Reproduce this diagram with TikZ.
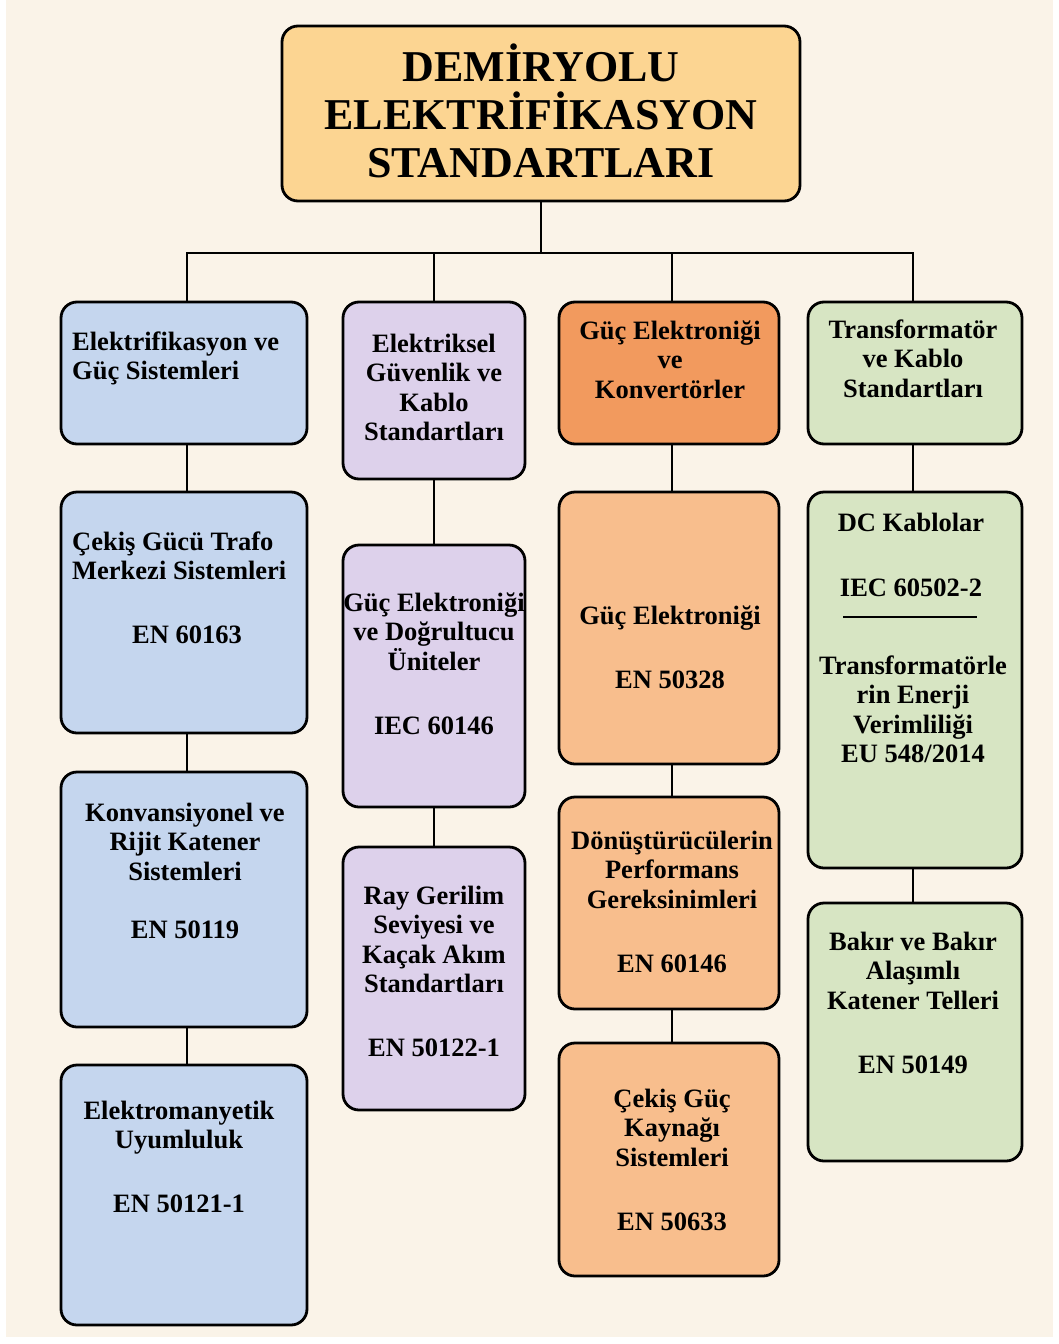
\documentclass[tikz,border=0pt]{standalone}
\usepackage{fontspec}
\setmainfont{Liberation Serif}
\definecolor{bgc}{HTML}{FAF3E8}
\definecolor{titlec}{HTML}{FCD592}
\definecolor{bluec}{HTML}{C5D6EE}
\definecolor{purplec}{HTML}{DDD1EB}
\definecolor{dorangec}{HTML}{F29A5E}
\definecolor{lorangec}{HTML}{F8BE8D}
\definecolor{greenc}{HTML}{D7E5C3}
\tikzset{
  box/.style={draw=black, line width=2.8pt, rounded corners=16pt, inner sep=0pt},
  conn/.style={draw=black, line width=2.4pt},
  txt/.style={inner sep=0pt, font=\fontsize{26.5}{29.5}\selectfont\bfseries, align=center, anchor=base},
  txtl/.style={txt, align=left, anchor=base west},
  ttl/.style={inner sep=0pt, font=\fontsize{44}{48}\selectfont\bfseries, align=center, anchor=base}
}
\newcommand{\mkbox}[6]{% name, x1, y1, x2, y2, color
  \node[box, fill=#6, minimum width={(#4-#2)*1pt}, minimum height={(#5-#3)*1pt}] (#1) at ({(#2+#4)/2},{(#3+#5)/2}) {};
}
\begin{document}
\begin{tikzpicture}[x=1pt, y=-1pt]
\useasboundingbox (0,0) rectangle (1059,1344);
\fill[white] (0,0) rectangle (1059,1344);
\fill[bgc] (6,0) rectangle (1053,1337);

% column axes of the connectors
\coordinate (bus) at (541,253);
\coordinate (xa) at (187,0);
\coordinate (xb) at (434,0);
\coordinate (xc) at (672,0);
\coordinate (xd) at (913,0);

% boxes
\mkbox{title}{282}{26}{800}{201}{titlec}
\mkbox{a1}{61}{302}{307}{444}{bluec}
\mkbox{a2}{61}{492}{307}{733}{bluec}
\mkbox{a3}{61}{772}{307}{1027}{bluec}
\mkbox{a4}{61}{1065}{307}{1325}{bluec}
\mkbox{b1}{343}{302}{525}{479}{purplec}
\mkbox{b2}{343}{545}{525}{807}{purplec}
\mkbox{b3}{343}{847}{525}{1110}{purplec}
\mkbox{c1}{559}{302}{779}{444}{dorangec}
\mkbox{c2}{559}{492}{779}{764}{lorangec}
\mkbox{c3}{559}{797}{779}{1009}{lorangec}
\mkbox{c4}{559}{1043}{779}{1276}{lorangec}
\mkbox{d1}{808}{302}{1022}{444}{greenc}
\mkbox{d2}{808}{492}{1022}{868}{greenc}
\mkbox{d3}{808}{903}{1022}{1161}{greenc}

% connectors
\draw[conn] (title.south) -- (bus);
\draw[conn] (a1.north -| xa) -- (bus -| xa) -- (bus -| xd) -- (d1.north -| xd);
\draw[conn] (b1.north -| xb) -- (bus -| xb);
\draw[conn] (c1.north -| xc) -- (bus -| xc);
\draw[conn] (a1.south -| xa) -- (a2.north -| xa);
\draw[conn] (a2.south -| xa) -- (a3.north -| xa);
\draw[conn] (a3.south -| xa) -- (a4.north -| xa);
\draw[conn] (b1.south -| xb) -- (b2.north -| xb);
\draw[conn] (b2.south -| xb) -- (b3.north -| xb);
\draw[conn] (c1.south -| xc) -- (c2.north -| xc);
\draw[conn] (c2.south -| xc) -- (c3.north -| xc);
\draw[conn] (c3.south -| xc) -- (c4.north -| xc);
\draw[conn] (d1.south -| xd) -- (d2.north -| xd);
\draw[conn] (d2.south -| xd) -- (d3.north -| xd);

% title text (anchor = baseline of last line)
\node[ttl] (tt) at (541,177.5) {DEMİRYOLU\\ELEKTRİFİKASYON\\STANDARTLARI};

% column 1
\node[txtl] (ta1) at (72,379.5) {Elektrifikasyon ve\\Güç Sistemleri};
\node[txtl] (ta2) at (72,579.5) {Çekiş Gücü Trafo\\Merkezi Sistemleri};
\node[txt] (ta2e) at (187,643) {EN 60163};
\node[txt] (ta3) at (185,938) {Konvansiyonel ve\\Rijit Katener\\Sistemleri\\[28.5pt]EN 50119};
\node[txt] (ta4) at (179,1212.5) {Elektromanyetik\\Uyumluluk\\[34.5pt]EN 50121-1};

% column 2
\node[txt] (tb1) at (434,440.5) {Elektriksel\\Güvenlik ve\\Kablo\\Standartları};
\node[txt] (tb2) at (434,734) {Güç Elektroniği\\ve Doğrultucu\\Üniteler\\[34.5pt]IEC 60146};
\node[txt] (tb3) at (434,1056.5) {Ray Gerilim\\Seviyesi ve\\Kaçak Akım\\Standartları\\[34.5pt]EN 50122-1};

% column 3
\node[txt] (tc1) at (670,398) {Güç Elektroniği\\ve\\Konvertörler};
\node[txt] (tc2) at (670,688) {Güç Elektroniği\\[34.5pt]EN 50328};
\node[txt] (tc3) at (672,972) {Dönüştürücülerin\\Performans\\Gereksinimleri\\[34.5pt]EN 60146};
\node[txt] (tc4) at (672,1230) {Çekiş Güç\\Kaynağı\\Sistemleri\\[34.5pt]EN 50633};

% column 4
\node[txt] (td1) at (913,397) {Transformatör\\ve Kablo\\Standartları};
\node[txt] (td2) at (911,596) {DC Kablolar\\[35.5pt]IEC 60502-2};
\draw[line width=2.6pt] (843,617) -- (977,617);
\node[txt] (td2b) at (913,762.5) {Transformatörle\\rin Enerji\\Verimliliği\\EU 548/2014};
\node[txt] (td3) at (913,1073) {Bakır ve Bakır\\Alaşımlı\\Katener Telleri\\[34.5pt]EN 50149};
\end{tikzpicture}
\end{document}
